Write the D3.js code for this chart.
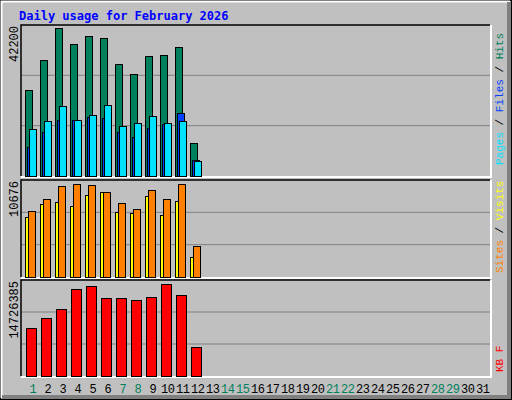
<!DOCTYPE html>
<html><head><meta charset="utf-8">
<script src="https://cdn.jsdelivr.net/npm/d3@7"></script>
<style>body{margin:0;background:#fff}svg{display:block}</style>
</head><body><svg></svg>
<script>
var days = d3.range(1, 32);
var weekend = [1, 7, 8, 14, 15, 21, 22, 28, 29];
var hits  = [23900, 32350, 41350, 36850, 39100, 38550, 31200, 28400, 33500, 33750, 36000, 9300];
var files = [8150, 12400, 15750, 15750, 16600, 16300, 12400, 10950, 13500, 14600, 17700, 4500];
var pages = [13200, 15450, 19700, 15750, 17150, 19950, 14050, 14900, 16900, 14900, 15450, 4200];
var visits = [6560, 8030, 8250, 7800, 9020, 9320, 7140, 7030, 8910, 6810, 8360, 2180];
var sites  = [7220, 8580, 10010, 10230, 10120, 9320, 8140, 7470, 9570, 8580, 10230, 3360];
var kbytes = [7294000, 8833000, 10218000, 13342000, 13757000, 11911000, 11911000, 11603000, 12064000, 14065000, 12372000, 4524000];
var maxHits = 42200, maxSites = 10676, maxKB = 14726385;

var W = 512, H = 400, mono = "DejaVu Sans Mono, monospace";
var svg = d3.select('svg').attr('width', W).attr('height', H);

svg.append('rect').attr('width', W).attr('height', H).attr('fill', '#c0c0c0');
svg.append('rect').attr('x', 0.5).attr('y', 0.5).attr('width', W - 1).attr('height', H - 1)
  .attr('fill', 'none').attr('stroke', '#000');
svg.append('path').attr('d', 'M1.5,' + (H - 2) + 'V1.5H' + (W - 2)).attr('stroke', '#fff').attr('stroke-width', 2).attr('fill', 'none');
svg.append('path').attr('d', 'M2,' + (H - 3) + 'H' + (W - 3) + 'V2').attr('stroke', '#808080').attr('stroke-width', 4).attr('fill', 'none');

svg.append('text').attr('x', 19).attr('y', 20).text('Daily usage for February 2026')
  .attr('font-family', mono).attr('font-weight', 'bold').attr('font-size', 12).attr('fill', '#0000ff');

var x = d3.scaleBand().domain(days).range([25, 490]).paddingInner(0);
var L = 21, R = 490;

function panel(top, bottom, max, label) {
  var y = d3.scaleLinear().domain([0, max]).range([bottom, top]);
  var g = svg.append('g');
  [1 / 3, 2 / 3].forEach(function (f) {
    g.append('line').attr('x1', L).attr('x2', R).attr('y1', y(max * f)).attr('y2', y(max * f))
      .attr('stroke', '#808080');
  });
  g.append('path').attr('d', 'M' + L + ',' + bottom + 'V' + top + 'H' + R).attr('stroke', '#000').attr('stroke-width', 1.5).attr('fill', 'none');
  g.append('path').attr('d', 'M' + L + ',' + (bottom + 1) + 'H' + (R + 1) + 'V' + top).attr('stroke', '#fff').attr('stroke-width', 2).attr('fill', 'none');
  g.append('text').attr('transform', 'translate(18,' + (top + 1) + ') rotate(-90)')
    .attr('text-anchor', 'end').attr('font-family', 'Liberation Mono, monospace').attr('font-size', 12).text(label);
  return y;
}

function bars(y, data, off, w, color) {
  svg.append('g').selectAll('rect').data(data).enter().append('rect')
    .attr('x', function (d, i) { return x(i + 1) + off + 0.5; })
    .attr('y', function (d) { return Math.round(y(d)) + 0.5; })
    .attr('width', w)
    .attr('height', function (d) { return y(0) - Math.round(y(d)); })
    .attr('fill', color).attr('stroke', '#000');
}

var y1 = panel(25, 176, maxHits, '42200');
bars(y1, hits, 0, 7, '#00805c');
bars(y1, files, 2, 7, '#0040ff');
bars(y1, pages, 4, 7, '#00e0ff');

var y2 = panel(180, 277, maxSites, '10676');
bars(y2, visits, 0, 7, '#ffff00');
bars(y2, sites, 3, 7, '#ff8000');

var y3 = panel(280, 376, maxKB, '14726385');
bars(y3, kbytes, 1, 10, '#ff0000');

svg.append('g').selectAll('text').data(days).enter().append('text')
  .attr('x', function (d) { return x(d) + 8; }).attr('y', 393)
  .attr('text-anchor', 'middle').attr('font-family', 'Liberation Mono, monospace').attr('font-size', 12)
  .attr('textLength', function (d) { return d > 9 ? 14 : null; })
  .attr('fill', function (d) { return weekend.indexOf(d) >= 0 ? '#00805c' : '#000'; })
  .text(function (d) { return d; });

function sideLabel(yPos, parts) {
  var t = svg.append('text').attr('transform', 'translate(503,' + yPos + ') rotate(-90)')
    .attr('font-family', 'Liberation Mono, monospace').attr('font-size', 11);
  parts.forEach(function (p) { t.append('tspan').attr('fill', p[1]).text(p[0]); });
}
sideLabel(165, [['Pages', '#00e0ff'], [' / ', '#000'], ['Files', '#0040ff'], [' / ', '#000'], ['Hits', '#00805c']]);
sideLabel(273, [['Sites', '#ff8000'], [' / ', '#000'], ['Visits', '#ffff00']]);
sideLabel(372, [['KB F', '#ff0000']]);
</script></body></html>
